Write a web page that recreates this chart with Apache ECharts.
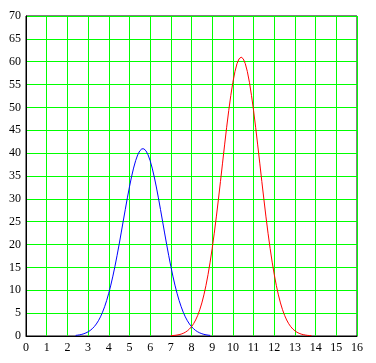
<!DOCTYPE html>
<html>
<head>
<meta charset="utf-8">
<script src="https://cdn.jsdelivr.net/npm/echarts@6/dist/echarts.min.js"></script>
<style>html,body{margin:0;padding:0;background:#fff;}#c{width:376px;height:363px;}</style>
</head>
<body>
<div id="c"></div>
<script>
var xTicks = [0,1,2,3,4,5,6,7,8,9,10,11,12,13,14,15,16];
var yTicks = [0,5,10,15,20,25,30,35,40,45,50,55,60,65,70];

var blueX = [2.4,2.5,2.6,2.7,2.8,2.9,3.0,3.1,3.2,3.3,3.4,3.5,3.6,3.7,3.8,3.9,4.0,4.1,4.2,4.3,4.4,4.5,4.6,4.7,4.8,4.9,5.0,5.1,5.2,5.3,5.4,5.5,5.6,
             5.7,5.8,5.9,6.0,6.1,6.2,6.3,6.4,6.5,6.6,6.7,6.8,6.9,7.0,7.1,7.2,7.3,7.4,7.5,7.6,7.7,7.8,7.9,8.0,8.1,8.2,8.3,8.4,8.5,8.6,8.7,8.8,8.9];
var blueY = [0.13,0.19,0.26,0.36,0.50,0.68,0.91,1.20,1.58,2.05,2.63,3.34,4.19,5.21,6.40,7.78,9.36,11.13,13.10,15.25,17.56,20.00,22.54,25.13,27.70,30.22,32.60,34.80,36.73,38.36,39.63,40.50,40.94,
             40.94,40.50,39.63,38.36,36.73,34.80,32.60,30.22,27.70,25.13,22.54,20.00,17.56,15.25,13.10,11.13,9.36,7.78,6.40,5.21,4.19,3.34,2.63,2.05,1.58,1.20,0.91,0.68,0.50,0.36,0.26,0.19,0.13];

var redX = [7.0,7.1,7.2,7.3,7.4,7.5,7.6,7.7,7.8,7.9,8.0,8.1,8.2,8.3,8.4,8.5,8.6,8.7,8.8,8.9,9.0,9.1,9.2,9.3,9.4,9.5,9.6,9.7,9.8,9.9,10.0,10.1,10.2,10.3,
            10.4,10.5,10.6,10.7,10.8,10.9,11.0,11.1,11.2,11.3,11.4,11.5,11.6,11.7,11.8,11.9,12.0,12.1,12.2,12.3,12.4,12.5,12.6,12.7,12.8,12.9,13.0,13.1,13.2,13.3,13.4,13.5,13.6,13.7,13.8];
var redY = [0.07,0.10,0.14,0.21,0.30,0.42,0.59,0.82,1.13,1.52,2.03,2.68,3.50,4.51,5.75,7.23,9.00,11.07,13.45,16.15,19.17,22.48,26.05,29.85,33.79,37.81,41.80,45.67,49.32,52.63,55.50,57.84,59.58,60.64,
            61.00,60.64,59.58,57.84,55.50,52.63,49.32,45.67,41.80,37.81,33.79,29.85,26.05,22.48,19.17,16.15,13.45,11.07,9.00,7.23,5.75,4.51,3.50,2.68,2.03,1.52,1.13,0.82,0.59,0.42,0.30,0.21,0.14,0.10,0.07];

function pairs(xs, ys){ return xs.map(function(x,i){ return [x, ys[i]]; }); }

var chart = echarts.init(document.getElementById('c'), null, {renderer:'canvas'});
var font = '"Liberation Serif", "DejaVu Serif", serif';
chart.setOption({
  animation: false,
  backgroundColor: '#ffffff',
  grid: {left: 26, top: 16, right: 19, bottom: 27, show: true, borderColor: '#000', borderWidth: 1, backgroundColor: 'transparent'},
  xAxis: {
    type: 'value', min: xTicks[0], max: xTicks[xTicks.length-1], interval: 1,
    axisLine: {show: true, lineStyle: {color: '#000', width: 1}},
    axisTick: {show: false},
    axisLabel: {color: '#000', fontFamily: font, fontSize: 12, margin: 6},
    splitLine: {show: true, lineStyle: {color: '#00ff00', width: 1}}
  },
  yAxis: {
    type: 'value', min: yTicks[0], max: yTicks[yTicks.length-1], interval: 5,
    axisLine: {show: true, lineStyle: {color: '#000', width: 1}},
    axisTick: {show: false},
    axisLabel: {color: '#000', fontFamily: font, fontSize: 12, margin: 5},
    splitLine: {show: true, lineStyle: {color: '#00ff00', width: 1}}
  },
  series: [
    {type: 'line', data: pairs(blueX, blueY), showSymbol: false, symbol: 'none', lineStyle: {color: '#0000ff', width: 1}, itemStyle:{color:'#0000ff'}},
    {type: 'line', data: pairs(redX, redY), showSymbol: false, symbol: 'none', lineStyle: {color: '#ff0000', width: 1}, itemStyle:{color:'#ff0000'}}
  ]
});
</script>
</body>
</html>
